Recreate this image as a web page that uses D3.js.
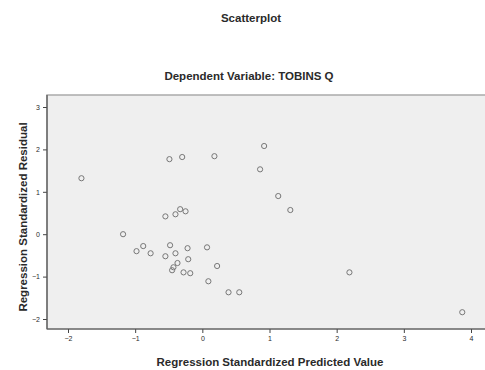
<!DOCTYPE html>
<html>
<head>
<meta charset="utf-8">
<script src="https://cdn.jsdelivr.net/npm/d3@7"></script>
<style>
  body { margin: 0; background: #fff; }
  text { font-family: "Liberation Sans", Arial, sans-serif; fill: #2a2a2a; }
</style>
</head>
<body>
<svg id="chart" width="485" height="370"></svg>
<script>
// predicted (x) and residual (y), standardized
var predicted = [-1.80, -0.49, -0.30, 0.18, 0.92, 0.86, 1.13, 1.31, -0.55, -0.40, -0.33, -0.25,
  -1.18, -0.98, -0.88, -0.77, -0.55, -0.48, -0.40, -0.22, -0.21, 0.07, -0.43, -0.37, -0.45,
  -0.28, -0.18, 0.22, 0.09, 0.39, 0.55, 2.19, 3.87];
var residual = [1.32, 1.77, 1.82, 1.84, 2.08, 1.53, 0.90, 0.57, 0.42, 0.47, 0.59, 0.54,
  0.00, -0.40, -0.28, -0.45, -0.52, -0.26, -0.45, -0.33, -0.59, -0.31, -0.78, -0.68, -0.85,
  -0.90, -0.92, -0.75, -1.11, -1.37, -1.37, -0.90, -1.84];
var xTicks = [-2, -1, 0, 1, 2, 3, 4];
var yTicks = [-2, -1, 0, 1, 2, 3];

var svg = d3.select("#chart");
var plotL = 47, plotR = 487, plotT = 95, plotB = 329;

var x = d3.scaleLinear().domain([-2, 4]).range([68, 471]);
var y = d3.scaleLinear().domain([-2, 3]).range([319, 107]);

svg.append("text").attr("x", 251).attr("y", 22).attr("text-anchor", "middle")
  .attr("font-size", 11.5).attr("font-weight", "bold").text("Scatterplot");
svg.append("text").attr("x", 249).attr("y", 80).attr("text-anchor", "middle")
  .attr("font-size", 11.5).attr("font-weight", "bold").text("Dependent Variable: TOBINS Q");

svg.append("rect").attr("x", plotL).attr("y", plotT)
  .attr("width", plotR - plotL).attr("height", plotB - plotT)
  .attr("fill", "#efefef").attr("stroke", "#aaa").attr("stroke-width", 1.5);

var gx = svg.append("g").attr("transform", "translate(0," + plotB + ")")
  .call(d3.axisBottom(x).tickValues(xTicks).tickSize(4).tickFormat(d3.format("d")));
var gy = svg.append("g").attr("transform", "translate(" + plotL + ",0)")
  .call(d3.axisLeft(y).tickValues(yTicks).tickSize(4).tickFormat(d3.format("d")));
[gx, gy].forEach(function(g) {
  g.select(".domain").remove();
  g.selectAll("line").attr("stroke", "#444");
  g.selectAll("text").attr("font-size", 7).attr("fill", "#444");
});
svg.append("line").attr("x1", plotL).attr("x2", plotR).attr("y1", plotB).attr("y2", plotB)
  .attr("stroke", "#555").attr("stroke-width", 1.2);
svg.append("line").attr("x1", plotL).attr("x2", plotL).attr("y1", plotT).attr("y2", plotB)
  .attr("stroke", "#555").attr("stroke-width", 1.2);

svg.append("g").selectAll("circle")
  .data(predicted.map(function(d, i) { return [d, residual[i]]; }))
  .enter().append("circle")
    .attr("cx", function(d) { return x(d[0]); })
    .attr("cy", function(d) { return y(d[1]); })
    .attr("r", 2.6)
    .attr("fill", "none")
    .attr("stroke", "#777")
    .attr("stroke-width", 1);

svg.append("text").attr("x", 270).attr("y", 366).attr("text-anchor", "middle")
  .attr("font-size", 11.5).attr("font-weight", "bold").text("Regression Standardized Predicted Value");
svg.append("text").attr("transform", "translate(27,217) rotate(-90)").attr("text-anchor", "middle")
  .attr("font-size", 11.5).attr("font-weight", "bold").text("Regression Standardized Residual");
</script>
</body>
</html>
